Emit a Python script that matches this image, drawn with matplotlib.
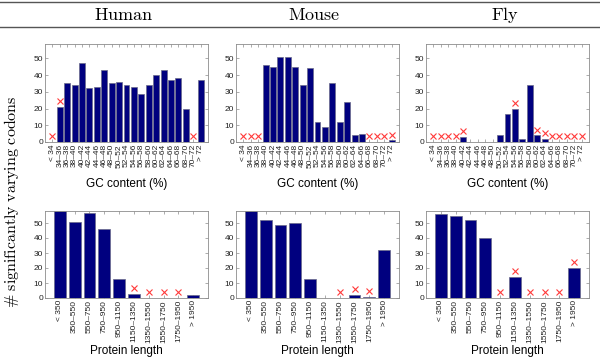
import numpy as np
import matplotlib.pyplot as plt
from matplotlib.lines import Line2D

plt.rcParams['font.family'] = ['Liberation Sans', 'DejaVu Sans']
plt.rcParams['mathtext.fontset'] = 'cm'

#  DATA
GC_LABELS = ["< 34", "34–36", "36–38", "38–40", "40–42", "42–44", "44–46",
             "46–48", "48–50", "50–52", "52–54", "54–56", "56–58", "58–60",
             "60–62", "62–64", "64–66", "66–68", "68–70", "70–72", "> 72"]
LEN_LABELS = ["< 350", "350–550", "550–750", "750–950", "950–1150",
              "1150–1350", "1350–1550", "1550–1750", "1750–1950", "> 1950"]

human_gc   = [0, 21, 35, 34, 47, 32, 33, 43, 35, 36, 34, 33, 29, 34, 40, 43, 37, 38, 20, 0, 37]
human_gc_x = [0, 1, 19]
mouse_gc   = [0, 0, 0, 46, 45, 51, 51, 45, 34, 44, 12, 9, 35, 12, 24, 4, 5, 0, 0, 0, 1]
mouse_gc_x = [0, 1, 2, 17, 18, 19, 20]
fly_gc     = [0, 0, 0, 0, 3, 0, 0, 0, 0, 4, 17, 20, 2, 34, 4, 2, 0, 0, 0, 0, 0]
fly_gc_x   = [0, 1, 2, 3, 4, 11, 14, 15, 16, 17, 18, 19, 20]

human_len   = [58, 51, 57, 46, 13, 3, 0, 0, 0, 2]
human_len_x = [5, 6, 7, 8]
mouse_len   = [58, 52, 49, 50, 13, 0.3, 0, 2, 1, 32]
mouse_len_x = [6, 7, 8]
fly_len     = [56, 55, 52, 40, 0, 14, 0, 0, 0, 20]
fly_len_x   = [4, 5, 6, 7, 8, 9]

SPECIES = ["Human", "Mouse", "Fly"]
GC_DATA  = [(human_gc, human_gc_x), (mouse_gc, mouse_gc_x), (fly_gc, fly_gc_x)]
LEN_DATA = [(human_len, human_len_x), (mouse_len, mouse_len_x), (fly_len, fly_len_x)]

BAR_COLOR  = "#00007F"
SPINE_GREY = "#8c8c8c"

#  LAYOUT
W, H = 600, 359
fig = plt.figure(figsize=(6.0, 3.59), dpi=100)

lefts = [45, 236, 426]
width = 163


def px_axes(left, top, w, h):
    return fig.add_axes([left / W, 1 - (top + h) / H, w / W, h / H])


def draw_panel(ax, values, flagged, labels, ymax, off):
    vals = np.array(values, dtype=float)
    idx = np.arange(len(vals))
    show = vals > 0
    ax.bar(idx[show], vals[show], width=0.8, color=BAR_COLOR,
           edgecolor="#6a6a8a", linewidth=0.5, zorder=2)
    ax.plot(np.array(flagged), vals[flagged] + off, "x", color="#ff3a3a",
            markersize=4, markeredgewidth=0.8, zorder=3)
    ax.set_xlim(-1, len(vals))
    ax.set_ylim(0, ymax)
    ax.set_yticks(np.arange(0, 51, 10))
    ax.set_xticks(idx)
    ax.set_xticklabels(labels, rotation=90, fontsize=6, color="#222222")
    ax.tick_params(axis="y", labelsize=6, labelcolor="#222222")
    ax.tick_params(direction="in", length=2, width=0.5, color=SPINE_GREY,
                   top=True, right=True, pad=1.5)
    for sp in ax.spines.values():
        sp.set_color(SPINE_GREY)
        sp.set_linewidth(0.6)


for i, name in enumerate(SPECIES):
    ax_top = px_axes(lefts[i], 44, width, 98)
    draw_panel(ax_top, GC_DATA[i][0], GC_DATA[i][1], GC_LABELS, 58.6, 3.3)
    ax_bot = px_axes(lefts[i], 211, width, 87)
    draw_panel(ax_bot, LEN_DATA[i][0], LEN_DATA[i][1], LEN_LABELS, 58, 3.8)

    cx = (lefts[i] + width / 2) / W
    fig.text(cx - 3 / W, 1 - 15 / H, r"$\mathrm{%s}$" % name, ha="center", va="center",
             fontsize=13)
    fig.text(cx, 1 - 184 / H, "GC content (%)", ha="center", va="center", fontsize=8.5)
    fig.text(cx, 1 - 351 / H, "Protein length", ha="center", va="center", fontsize=8.5)

fig.text(12 / W, 1 - 202 / H, r"$\#\ \mathrm{significantly\ varying\ codons}$",
         rotation=90, ha="center", va="center", fontsize=11.5)

# header rules
for y in (1.5, 27):
    fig.add_artist(Line2D([0, 1], [1 - y / H, 1 - y / H], color="#555555",
                          linewidth=1.0, transform=fig.transFigure))

plt.savefig("out.png", dpi=100)
